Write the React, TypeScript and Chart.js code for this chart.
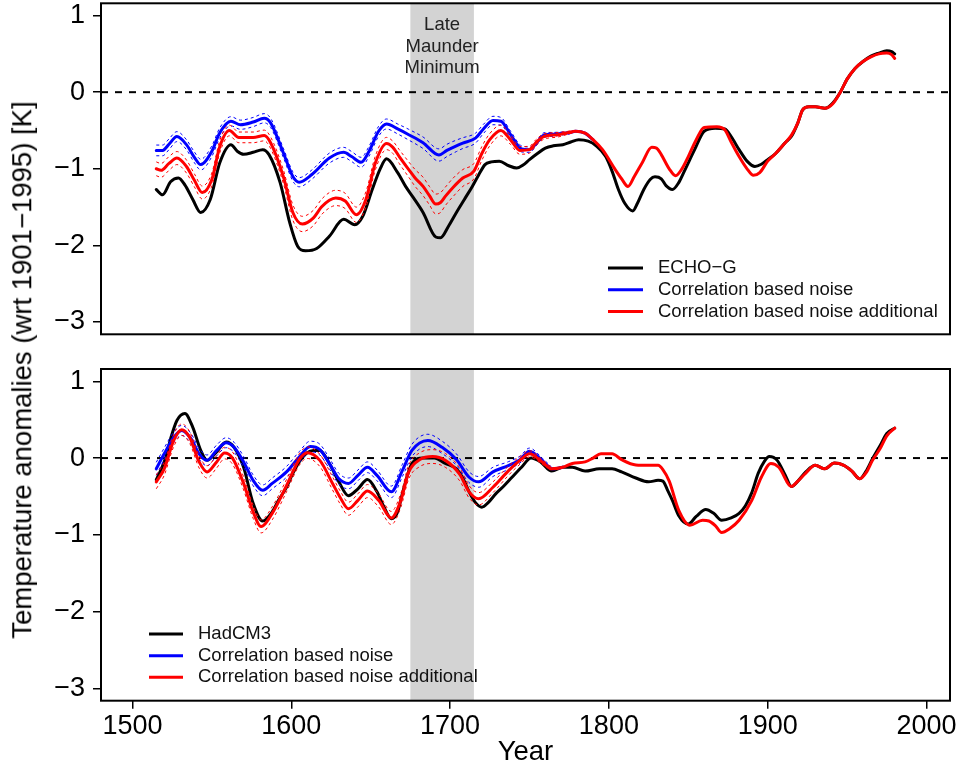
import React, { useEffect, useRef } from "react";
import { Chart, registerables } from "chart.js";

Chart.register(...registerables);

const FONT = '"Liberation Sans", Arial, Helvetica, sans-serif';

// ---- axes / labels ----
const YEAR_MIN = 1480.2;
const YEAR_MAX = 2014.8;
const ANOM_MIN = -3.16;
const ANOM_MAX = 1.16;
const YEAR_TICKS = [1500, 1600, 1700, 1800, 1900, 2000];
const ANOM_TICKS = [-3, -2, -1, 0, 1];
const ZERO_LEVEL = 0;
const LMM_YEARS = [1675, 1715];
const LMM_TEXT = ["Late", "Maunder", "Minimum"];
const Y_TITLE = "Temperature anomalies (wrt 1901\u22121995) [K]";
const X_TITLE = "Year";
const TOP_LABELS = ["ECHO\u2212G", "Correlation based noise", "Correlation based noise additional"];
const BOTTOM_LABELS = ["HadCM3", "Correlation based noise", "Correlation based noise additional"];

// ---- top panel: ECHO-G [year, anomaly] ----
const ECHO_MODEL: [number, number][] = [
  [1515, -1.27], [1519, -1.34], [1524, -1.17], [1529, -1.12], [1533, -1.21], [1538, -1.4],
  [1543, -1.57], [1549, -1.4], [1555, -0.92], [1562, -0.685], [1566, -0.77], [1570, -0.81],
  [1576, -0.785], [1582, -0.75], [1586, -0.815], [1593, -1.18], [1599, -1.7], [1604, -2.01],
  [1609, -2.07], [1616, -2.04], [1624, -1.88], [1633, -1.66], [1640, -1.73], [1645, -1.62],
  [1651, -1.27], [1656, -1.0], [1660, -0.87], [1667, -1.05], [1672, -1.23], [1677, -1.38],
  [1683, -1.57], [1691, -1.89], [1694, -1.9], [1699, -1.75], [1704, -1.57], [1709, -1.4],
  [1714, -1.23], [1718, -1.08], [1722, -0.945], [1726, -0.91], [1731, -0.9], [1737, -0.96],
  [1742, -0.99], [1746, -0.95], [1750, -0.88], [1755, -0.8], [1760, -0.73], [1765, -0.7],
  [1771, -0.685], [1776, -0.65], [1781, -0.62], [1787, -0.64], [1792, -0.7], [1798, -0.84],
  [1802, -1.03], [1806, -1.27], [1810, -1.45], [1815, -1.55], [1818, -1.45], [1822, -1.27],
  [1826, -1.14], [1829, -1.105], [1833, -1.13], [1836, -1.22], [1840, -1.27], [1844, -1.18],
  [1848, -1.01], [1854, -0.75], [1860, -0.51], [1867, -0.47], [1873, -0.48], [1877, -0.58],
  [1882, -0.75], [1887, -0.9], [1892, -0.97], [1896, -0.94], [1900, -0.88], [1905, -0.8],
  [1911, -0.66], [1915, -0.575], [1919, -0.4], [1922, -0.23], [1926, -0.19], [1930, -0.19],
  [1936, -0.21], [1941, -0.14], [1946, 0.01], [1950, 0.17], [1955, 0.31], [1960, 0.4],
  [1965, 0.47], [1970, 0.51], [1975, 0.54], [1978, 0.53], [1980, 0.5],
];

// [year, anomaly, half-width of dashed band]
const ECHO_CORR: [number, number, number | null][] = [
  [1515, -0.76, 0.07], [1519, -0.76, 0.07], [1523, -0.68, 0.07], [1528, -0.58, 0.065],
  [1534, -0.685, 0.065], [1539, -0.85, 0.07], [1543, -0.945, 0.07], [1550, -0.77, 0.07],
  [1555, -0.53, 0.065], [1562, -0.38, 0.06], [1568, -0.425, 0.06], [1576, -0.39, 0.06],
  [1583, -0.34, 0.06], [1587, -0.4, 0.06], [1595, -0.79, 0.06], [1601, -1.1, 0.06],
  [1605, -1.175, 0.06], [1613, -1.075, 0.06], [1624, -0.86, 0.065], [1633, -0.785, 0.065],
  [1638, -0.84, 0.065], [1644, -0.915, 0.065], [1649, -0.77, 0.065], [1655, -0.51, 0.065],
  [1660, -0.415, 0.065], [1667, -0.48, 0.065], [1674, -0.555, 0.07], [1683, -0.66, 0.075],
  [1693, -0.82, 0.08], [1698, -0.76, 0.08], [1704, -0.7, 0.075], [1708, -0.665, 0.07],
  [1716, -0.6, 0.065], [1721, -0.48, 0.06], [1727, -0.37, 0.055], [1732, -0.38, 0.05],
  [1738, -0.55, 0.045], [1745, -0.74, 0.04], [1750, -0.75, 0.035], [1755, -0.65, 0.03],
  [1759, -0.56, 0.03], [1765, -0.55, 0.025], [1770, -0.54, 0.02], [1775, -0.53, 0.015],
  [1779, -0.51, 0.01], [1785, -0.535, null], [1790, -0.62, null],
];

const ECHO_CORR_ADD: [number, number, number | null][] = [
  [1515, -1.0, 0.09], [1518, -1.02, 0.09], [1523, -0.93, 0.09], [1528, -0.86, 0.085],
  [1534, -0.97, 0.085], [1539, -1.15, 0.085], [1544, -1.31, 0.085], [1550, -1.14, 0.085],
  [1555, -0.71, 0.08], [1561, -0.5, 0.07], [1567, -0.59, 0.07], [1576, -0.59, 0.07],
  [1583, -0.565, 0.07], [1587, -0.66, 0.075], [1595, -1.1, 0.09], [1601, -1.57, 0.1],
  [1607, -1.72, 0.1], [1614, -1.64, 0.1], [1619, -1.5, 0.1], [1624, -1.41, 0.1],
  [1628, -1.38, 0.1], [1634, -1.42, 0.1], [1641, -1.6, 0.1], [1647, -1.4, 0.1],
  [1653, -0.92, 0.09], [1660, -0.67, 0.08], [1664, -0.72, 0.08], [1668, -0.84, 0.09],
  [1674, -1.01, 0.1], [1678, -1.12, 0.11], [1683, -1.23, 0.12], [1687, -1.35, 0.12],
  [1691, -1.46, 0.13], [1694, -1.44, 0.13], [1697, -1.36, 0.12], [1702, -1.24, 0.12],
  [1708, -1.12, 0.11], [1715, -1.03, 0.1], [1720, -0.8, 0.09], [1725, -0.62, 0.08],
  [1732, -0.5, 0.07], [1738, -0.62, 0.06], [1744, -0.76, 0.05], [1750, -0.75, 0.045],
  [1754, -0.66, 0.04], [1759, -0.58, 0.035], [1768, -0.555, 0.03], [1774, -0.53, 0.02],
  [1779, -0.51, 0.01], [1785, -0.535, null], [1790, -0.62, null], [1796, -0.75, null],
  [1804, -1.01, null], [1808, -1.13, null], [1812, -1.23, null], [1816, -1.1, null],
  [1821, -0.92, null], [1827, -0.72, null], [1830, -0.73, null], [1833, -0.815, null],
  [1838, -1.0, null], [1842, -1.09, null], [1846, -1.0, null], [1850, -0.84, null],
  [1855, -0.62, null], [1860, -0.46, null], [1868, -0.45, null], [1873, -0.49, null],
  [1877, -0.65, null], [1882, -0.84, null], [1887, -1.0, null], [1891, -1.085, null],
  [1895, -1.05, null], [1900, -0.9, null], [1905, -0.8, null], [1911, -0.66, null],
  [1915, -0.56, null], [1919, -0.4, null], [1922, -0.23, null], [1926, -0.19, null],
  [1930, -0.19, null], [1936, -0.21, null], [1941, -0.15, null], [1946, 0.01, null],
  [1950, 0.17, null], [1955, 0.31, null], [1960, 0.4, null], [1965, 0.46, null],
  [1970, 0.5, null], [1975, 0.51, null], [1978, 0.49, null], [1980, 0.44, null],
];

// ---- bottom panel: HadCM3 ----
const HAD_MODEL: [number, number][] = [
  [1515, -0.28], [1518, -0.15], [1521, 0.01], [1524, 0.25], [1528, 0.49], [1533, 0.58],
  [1538, 0.4], [1543, 0.1], [1547, -0.03], [1553, 0.08], [1559, 0.21], [1564, 0.14],
  [1570, -0.12], [1576, -0.59], [1582, -0.82], [1588, -0.7], [1592, -0.55], [1597, -0.38],
  [1601, -0.2], [1605, -0.05], [1610, 0.07], [1614, 0.1], [1618, 0.1], [1624, -0.07],
  [1630, -0.31], [1636, -0.49], [1642, -0.4], [1648, -0.28], [1654, -0.44], [1658, -0.62],
  [1663, -0.79], [1667, -0.7], [1670, -0.46], [1676, -0.07], [1683, 0.0], [1690, 0.0],
  [1697, -0.07], [1704, -0.14], [1708, -0.26], [1712, -0.44], [1716, -0.58], [1720, -0.64],
  [1724, -0.58], [1729, -0.46], [1734, -0.36], [1739, -0.25], [1745, -0.12], [1751, 0.0],
  [1757, -0.05], [1764, -0.17], [1771, -0.12], [1777, -0.12], [1785, -0.17], [1794, -0.14],
  [1802, -0.14], [1808, -0.18], [1817, -0.26], [1825, -0.31], [1831, -0.29], [1834, -0.3],
  [1837, -0.42], [1840, -0.55], [1844, -0.75], [1850, -0.86], [1855, -0.76], [1861, -0.67],
  [1866, -0.72], [1871, -0.81], [1877, -0.78], [1882, -0.72], [1886, -0.62], [1890, -0.45],
  [1894, -0.2], [1898, -0.04], [1901, 0.02], [1906, -0.03], [1911, -0.22], [1915, -0.37],
  [1919, -0.3], [1924, -0.18], [1930, -0.095], [1936, -0.14], [1942, -0.065], [1948, -0.095],
  [1953, -0.17], [1958, -0.27], [1962, -0.17], [1966, -0.01], [1971, 0.17], [1975, 0.32],
  [1980, 0.39],
];

const HAD_CORR: [number, number, number | null][] = [
  [1515, -0.14, 0.085], [1520, 0.056, 0.075], [1526, 0.27, 0.07], [1531, 0.36, 0.065],
  [1537, 0.25, 0.065], [1542, 0.056, 0.07], [1547, -0.03, 0.07], [1553, 0.1, 0.07],
  [1559, 0.2, 0.065], [1564, 0.14, 0.065], [1570, -0.05, 0.07], [1576, -0.29, 0.07],
  [1582, -0.42, 0.07], [1588, -0.33, 0.07], [1597, -0.18, 0.07], [1605, 0.013, 0.07],
  [1612, 0.15, 0.07], [1618, 0.11, 0.07], [1624, -0.07, 0.07], [1630, -0.27, 0.07],
  [1636, -0.33, 0.07], [1642, -0.225, 0.07], [1648, -0.12, 0.07], [1654, -0.225, 0.07],
  [1663, -0.44, 0.075], [1670, -0.16, 0.08], [1676, 0.1, 0.08], [1686, 0.23, 0.08],
  [1695, 0.14, 0.08], [1704, -0.02, 0.075], [1712, -0.25, 0.07], [1718, -0.31, 0.07],
  [1727, -0.18, 0.06], [1737, -0.095, 0.05], [1744, -0.02, 0.045], [1750, 0.09, 0.04],
  [1758, -0.03, 0.03], [1764, -0.14, 0.02], [1771, -0.12, null],
];

const HAD_CORR_ADD: [number, number, number | null][] = [
  [1515, -0.31, 0.09], [1520, -0.14, 0.085], [1526, 0.23, 0.08], [1531, 0.37, 0.075],
  [1536, 0.27, 0.075], [1542, -0.05, 0.08], [1547, -0.18, 0.08], [1553, -0.05, 0.08],
  [1558, 0.065, 0.075], [1563, 0.0, 0.08], [1570, -0.33, 0.085], [1576, -0.7, 0.085],
  [1581, -0.89, 0.085], [1588, -0.72, 0.085], [1597, -0.36, 0.08], [1605, -0.02, 0.075],
  [1610, 0.07, 0.075], [1618, -0.03, 0.08], [1626, -0.33, 0.085], [1631, -0.52, 0.085],
  [1636, -0.66, 0.085], [1642, -0.55, 0.085], [1648, -0.43, 0.085], [1655, -0.55, 0.085],
  [1663, -0.78, 0.085], [1669, -0.55, 0.09], [1674, -0.18, 0.09], [1681, -0.02, 0.09],
  [1689, 0.02, 0.09], [1697, -0.03, 0.09], [1706, -0.21, 0.085], [1712, -0.44, 0.08],
  [1718, -0.53, 0.08], [1727, -0.38, 0.07], [1737, -0.16, 0.06], [1744, -0.03, 0.05],
  [1750, 0.056, 0.04], [1758, -0.05, 0.03], [1764, -0.14, 0.02], [1771, -0.12, null],
  [1777, -0.07, null], [1785, -0.05, null], [1790, 0.0, null], [1795, 0.056, null],
  [1802, 0.056, null], [1808, -0.02, null], [1817, -0.09, null], [1825, -0.095, null],
  [1831, -0.095, null], [1834, -0.15, null], [1838, -0.3, null], [1844, -0.68, null],
  [1851, -0.875, null], [1859, -0.81, null], [1863, -0.82, null], [1867, -0.88, null],
  [1871, -0.97, null], [1876, -0.92, null], [1882, -0.81, null], [1890, -0.55, null],
  [1896, -0.25, null], [1902, -0.07, null], [1907, -0.12, null], [1915, -0.37, null],
  [1919, -0.3, null], [1924, -0.195, null], [1930, -0.095, null], [1936, -0.14, null],
  [1942, -0.065, null], [1948, -0.095, null], [1953, -0.17, null], [1958, -0.27, null],
  [1962, -0.19, null], [1966, -0.03, null], [1971, 0.13, null], [1975, 0.29, null],
  [1980, 0.39, null],
];

const BLACK = "#000000";
const BLUE = "#0000ff";
const RED = "#ff0000";
const SHADE = "#d3d3d3";

const fmtTick = (v: number) => (v < 0 ? "\u2212" + Math.abs(v) : String(v));

function lineDs(data: any[], color: string, width: number, order: number, dash: number[] = [], smooth = true) {
  return {
    data,
    borderColor: color,
    backgroundColor: color,
    borderWidth: width,
    borderDash: dash,
    pointRadius: 0,
    pointHoverRadius: 0,
    fill: false,
    order,
    cubicInterpolationMode: smooth ? "monotone" : "default",
    tension: 0,
    borderCapStyle: dash.length ? "butt" : "round",
    borderJoinStyle: "round",
  };
}

const xy = (a: any[]) => a.map((p) => ({ x: p[0], y: p[1] }));
const band = (a: [number, number, number | null][], sign: number) =>
  a.filter((p) => p[2] !== null).map((p) => ({ x: p[0], y: p[1] + sign * (p[2] as number) }));

function buildDatasets(model: [number, number][], corr: any, corrAdd: any) {
  return [
    lineDs(xy(corrAdd), RED, 3, 0),
    lineDs(band(corrAdd, 1), RED, 1, 1, [3, 3]),
    lineDs(band(corrAdd, -1), RED, 1, 1, [3, 3]),
    lineDs(xy(corr), BLUE, 3, 2),
    lineDs(band(corr, 1), BLUE, 1, 3, [3, 3]),
    lineDs(band(corr, -1), BLUE, 1, 3, [3, 3]),
    lineDs(xy(model), BLACK, 3, 4),
    lineDs(
      [
        { x: YEAR_MIN, y: ZERO_LEVEL },
        { x: YEAR_MAX, y: ZERO_LEVEL },
      ],
      BLACK,
      2,
      5,
      [7, 7],
      false
    ),
  ];
}

const framePlugin = {
  id: "frame",
  afterDraw(chart: any) {
    const { ctx, chartArea: a } = chart;
    ctx.save();
    ctx.strokeStyle = BLACK;
    ctx.lineWidth = 2;
    ctx.strokeRect(a.left, a.top, a.right - a.left, a.bottom - a.top);
    ctx.restore();
  },
};

const shadePlugin = {
  id: "shade",
  beforeDatasetsDraw(chart: any) {
    const { ctx, chartArea: a, scales } = chart;
    const x0 = scales.x.getPixelForValue(LMM_YEARS[0]);
    const x1 = scales.x.getPixelForValue(LMM_YEARS[1]);
    ctx.save();
    ctx.fillStyle = SHADE;
    ctx.fillRect(x0, a.top, x1 - x0, a.bottom - a.top);
    ctx.restore();
  },
};

const lmmTextPlugin = {
  id: "lmmText",
  afterDatasetsDraw(chart: any, _args: any, opts: any) {
    if (!opts || !opts.show) return;
    const { ctx, scales } = chart;
    const cx = scales.x.getPixelForValue((LMM_YEARS[0] + LMM_YEARS[1]) / 2);
    ctx.save();
    ctx.font = `18.5px ${FONT}`;
    ctx.fillStyle = "#222";
    ctx.textAlign = "center";
    ctx.textBaseline = "middle";
    LMM_TEXT.forEach((t, i) => ctx.fillText(t, cx, opts.y + i * opts.gap));
    ctx.restore();
  },
};

const legendPlugin = {
  id: "panelLegend",
  afterDraw(chart: any, _args: any, opts: any) {
    const { ctx } = chart;
    ctx.save();
    ctx.font = `18.5px ${FONT}`;
    ctx.textBaseline = "middle";
    ctx.textAlign = "left";
    opts.items.forEach((it: any, i: number) => {
      const y = opts.y + i * opts.gap;
      ctx.strokeStyle = it.color;
      ctx.lineWidth = 3;
      ctx.beginPath();
      ctx.moveTo(opts.x, y);
      ctx.lineTo(opts.x + opts.len, y);
      ctx.stroke();
      ctx.fillStyle = "#111";
      ctx.fillText(it.label, opts.textX, y);
    });
    ctx.restore();
  },
};

function makeConfig(datasets: any[], opts: any) {
  const { showX, padding, legend, lmm } = opts;
  return {
    type: "line",
    data: { datasets },
    plugins: [shadePlugin, lmmTextPlugin, framePlugin, legendPlugin],
    options: {
      animation: false,
      responsive: false,
      events: [],
      layout: { padding },
      plugins: {
        legend: { display: false },
        tooltip: { enabled: false },
        lmmText: lmm,
        panelLegend: legend,
      },
      scales: {
        x: {
          type: "linear",
          min: YEAR_MIN,
          max: YEAR_MAX,
          display: showX,
          afterBuildTicks: (s: any) => {
            s.ticks = YEAR_TICKS.map((v) => ({ value: v }));
          },
          afterFit: (s: any) => {
            s.height = showX ? 70.3 : 0;
            s.paddingLeft = 0;
            s.paddingRight = 0;
          },
          border: { display: false },
          grid: { display: true, drawOnChartArea: false, drawTicks: true, tickLength: 8, color: BLACK, lineWidth: 1.5 },
          ticks: {
            color: BLACK,
            font: { family: FONT, size: 27 },
            padding: 2,
            maxRotation: 0,
            autoSkip: false,
            callback: (v: number) => String(v),
          },
          title: {
            display: true,
            text: X_TITLE,
            color: BLACK,
            font: { family: FONT, size: 27.5 },
            padding: { top: 0, bottom: 2 },
          },
        },
        y: {
          type: "linear",
          min: ANOM_MIN,
          max: ANOM_MAX,
          afterBuildTicks: (s: any) => {
            s.ticks = ANOM_TICKS.map((v) => ({ value: v }));
          },
          afterFit: (s: any) => {
            s.width = 101;
            s.paddingTop = 0;
            s.paddingBottom = 0;
          },
          border: { display: false },
          grid: { display: true, drawOnChartArea: false, drawTicks: true, tickLength: 8, color: BLACK, lineWidth: 1.5 },
          ticks: {
            color: BLACK,
            font: { family: FONT, size: 27 },
            padding: 8,
            autoSkip: false,
            callback: (v: number) => fmtTick(v),
          },
        },
      },
    },
  };
}

export default function App() {
  const topRef = useRef<HTMLCanvasElement | null>(null);
  const botRef = useRef<HTMLCanvasElement | null>(null);

  useEffect(() => {
    const top = new Chart(
      topRef.current as HTMLCanvasElement,
      makeConfig(buildDatasets(ECHO_MODEL, ECHO_CORR, ECHO_CORR_ADD), {
        showX: false,
        padding: { top: 3.3, right: 10, bottom: 10.7, left: 0 },
        lmm: { show: true, y: 25, gap: 21.7 },
        legend: {
          x: 608,
          len: 35,
          textX: 658,
          y: 268,
          gap: 21.8,
          items: [
            { label: TOP_LABELS[0], color: BLACK },
            { label: TOP_LABELS[1], color: BLUE },
            { label: TOP_LABELS[2], color: RED },
          ],
        },
      }) as any
    );
    const bot = new Chart(
      botRef.current as HTMLCanvasElement,
      makeConfig(buildDatasets(HAD_MODEL, HAD_CORR, HAD_CORR_ADD), {
        showX: true,
        padding: { top: 24, right: 10, bottom: 0, left: 0 },
        lmm: { show: false },
        legend: {
          x: 149,
          len: 34,
          textX: 198,
          y: 289,
          gap: 21.65,
          items: [
            { label: BOTTOM_LABELS[0], color: BLACK },
            { label: BOTTOM_LABELS[1], color: BLUE },
            { label: BOTTOM_LABELS[2], color: RED },
          ],
        },
      }) as any
    );
    return () => {
      top.destroy();
      bot.destroy();
    };
  }, []);

  return (
    <div style={{ position: "absolute", left: 0, top: 0, width: 960, height: 771, background: "#fff", overflow: "hidden" }}>
      <canvas ref={topRef} width={960} height={345} style={{ position: "absolute", left: 0, top: 0 }} />
      <canvas ref={botRef} width={960} height={426} style={{ position: "absolute", left: 0, top: 345 }} />
      <div
        style={{
          position: "absolute",
          left: 22,
          top: 369.5,
          transform: "translate(-50%, -50%) rotate(-90deg)",
          whiteSpace: "nowrap",
          fontFamily: FONT,
          fontSize: 27.5,
          lineHeight: 1,
          color: "#000",
        }}
      >
        {Y_TITLE}
      </div>
    </div>
  );
}
